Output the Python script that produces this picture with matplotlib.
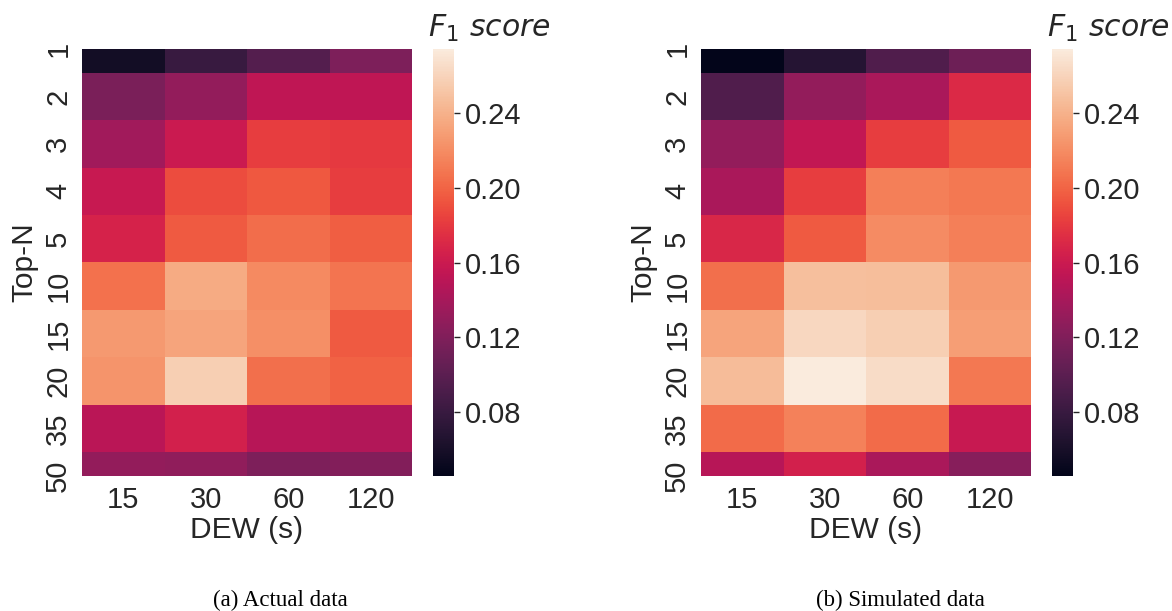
import numpy as np
import matplotlib
matplotlib.use("Agg")
import matplotlib.pyplot as plt
import seaborn as sns

# axes categories
top_n = [1, 2, 3, 4, 5, 10, 15, 20, 35, 50]
dew = [15, 30, 60, 120]

# F1 scores (rows: Top-N, cols: DEW)
actual = [
    [0.057, 0.080, 0.096, 0.119],
    [0.117, 0.130, 0.153, 0.153],
    [0.137, 0.160, 0.182, 0.180],
    [0.158, 0.189, 0.194, 0.182],
    [0.167, 0.195, 0.204, 0.197],
    [0.206, 0.236, 0.218, 0.208],
    [0.226, 0.233, 0.221, 0.195],
    [0.224, 0.257, 0.205, 0.199],
    [0.151, 0.165, 0.149, 0.146],
    [0.130, 0.128, 0.119, 0.121],
]
simulated = [
    [0.046, 0.069, 0.094, 0.110],
    [0.094, 0.130, 0.142, 0.171],
    [0.130, 0.155, 0.182, 0.195],
    [0.142, 0.182, 0.213, 0.209],
    [0.169, 0.195, 0.219, 0.213],
    [0.205, 0.248, 0.247, 0.226],
    [0.233, 0.262, 0.257, 0.229],
    [0.246, 0.274, 0.265, 0.209],
    [0.203, 0.214, 0.203, 0.158],
    [0.149, 0.165, 0.142, 0.124],
]
captions = ["(a) Actual data", "(b) Simulated data"]
cbar_ticks = [0.08, 0.12, 0.16, 0.20, 0.24]

sns.set_theme(style="white")
plt.rcParams["font.family"] = ["Liberation Sans", "DejaVu Sans"]

W, H = 1172, 611
fig = plt.figure(figsize=(W / 100, H / 100), dpi=100)

def px_axes(x0, y0, x1, y1):
    # pixel box (from top-left) -> figure axes
    return fig.add_axes([x0 / W, 1 - y1 / H, (x1 - x0) / W, (y1 - y0) / H])

vmin = min(np.min(actual), np.min(simulated))
vmax = max(np.max(actual), np.max(simulated))

panels = [(actual, 82, 433, 280), (simulated, 701, 1052, 900)]
for (data, hx, cx, capx), cap in zip(panels, captions):
    ax = px_axes(hx, 49, hx + 330, 476)
    cax = px_axes(cx, 49, cx + 21, 476)
    sns.heatmap(np.array(data), ax=ax, cbar_ax=cax, cmap="rocket",
                vmin=vmin, vmax=vmax, xticklabels=dew, yticklabels=top_n)
    ax.set_ylim(9.5, 0.5)  # first/last rows cut in half as in the original
    ax.tick_params(axis="both", length=0, labelsize=21, pad=7, colors="#262626")
    plt.setp(ax.get_yticklabels(), rotation=90, va="center")
    plt.setp(ax.get_xticklabels(), rotation=0)
    ax.set_xlabel("DEW (s)", fontsize=21.5, color="#262626", labelpad=2)
    ax.set_ylabel("Top-N", fontsize=21.5, color="#262626", labelpad=4)

    cbar = ax.collections[0].colorbar
    cbar.set_ticks(cbar_ticks)
    cbar.set_ticklabels([f"{t:.2f}" for t in cbar_ticks])
    cax.tick_params(length=4, width=1, labelsize=21, pad=4, colors="#262626", right=True)
    cbar.outline.set_linewidth(0)

    fig.text((cx - 5) / W, 1 - 37 / H, r"$F_1\ score$", fontsize=21.5,
             color="#262626", ha="left", va="baseline")
    fig.text(capx / W, 1 - 606 / H, cap, family="Liberation Serif", fontsize=16.5,
             color="black", ha="center", va="baseline")

fig.savefig("out.png", dpi=100)
